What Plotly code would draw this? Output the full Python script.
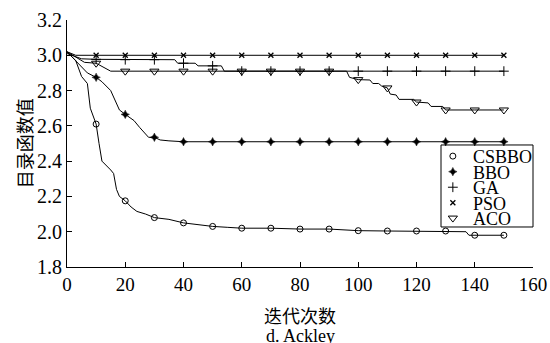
import plotly.graph_objects as go

# ---------------- data ----------------
series_names = ["CSBBO", "BBO", "GA", "PSO", "ACO"]

csbbo_x = [0, 3, 5, 7, 8, 10, 11, 12, 15, 16, 17, 18, 20, 22, 24, 27, 30, 35, 40, 45, 50, 55, 60, 70, 80, 90, 100, 110, 120, 130, 137, 138, 140, 150]
csbbo_y = [3.02, 2.97, 2.88, 2.84, 2.70, 2.61, 2.50, 2.40, 2.35, 2.33, 2.24, 2.20, 2.175, 2.14, 2.115, 2.10, 2.08, 2.07, 2.05, 2.04, 2.03, 2.025, 2.02, 2.02, 2.015, 2.015, 2.006, 2.004, 2.004, 2.004, 2.0, 1.98, 1.98, 1.98]

bbo_x = [0, 3, 6, 7, 10, 12, 15, 16, 17, 18, 20, 23, 25, 27, 28, 30, 32, 35, 40, 50, 60, 70, 80, 90, 100, 110, 120, 130, 140, 150]
bbo_y = [3.02, 2.97, 2.92, 2.90, 2.875, 2.85, 2.80, 2.76, 2.72, 2.69, 2.665, 2.63, 2.59, 2.55, 2.535, 2.535, 2.52, 2.515, 2.51, 2.51, 2.51, 2.51, 2.51, 2.51, 2.51, 2.51, 2.51, 2.51, 2.51, 2.51]

ga_x = [0, 3, 5, 10, 20, 30, 37, 38, 40, 44, 45, 50, 53, 54, 60, 70, 80, 90, 100, 110, 120, 130, 140, 150]
ga_y = [3.01, 2.99, 2.98, 2.977, 2.975, 2.975, 2.975, 2.955, 2.955, 2.955, 2.94, 2.94, 2.94, 2.91, 2.91, 2.91, 2.91, 2.91, 2.91, 2.91, 2.91, 2.91, 2.91, 2.91]

pso_x = [0, 3, 10, 20, 30, 40, 50, 60, 70, 80, 90, 100, 110, 120, 130, 140, 150]
pso_y = [3.02, 3.0, 3.0, 3.0, 3.0, 3.0, 3.0, 3.0, 3.0, 3.0, 3.0, 3.0, 3.0, 3.0, 3.0, 3.0, 3.0]

aco_x = [0, 3, 6, 10, 12, 14, 15, 20, 30, 40, 50, 60, 70, 80, 90, 96, 97, 99, 100, 104, 105, 107, 108, 110, 111, 113, 114, 119, 120, 124, 125, 129, 130, 140, 150]
aco_y = [3.02, 2.99, 2.96, 2.955, 2.935, 2.92, 2.91, 2.91, 2.91, 2.91, 2.91, 2.91, 2.91, 2.91, 2.91, 2.91, 2.875, 2.865, 2.862, 2.86, 2.84, 2.84, 2.826, 2.815, 2.78, 2.775, 2.75, 2.75, 2.735, 2.73, 2.71, 2.71, 2.69, 2.69, 2.69]

x_tick_vals = [0, 20, 40, 60, 80, 100, 120, 140, 160]
y_tick_vals = [1.8, 2.0, 2.2, 2.4, 2.6, 2.8, 3.0, 3.2]
x_title = "迭代次数"
y_title = "目录函数值"
caption = "d. Ackley"
top_caption = "c. Rosenbrock"

# ---------------- styles ----------------
SERIF = "'Liberation Serif', 'Times New Roman', serif"
CJK = "'Noto Sans CJK SC', 'Liberation Serif', serif"
symbols = {
    "CSBBO": dict(symbol="circle-open", size=6, line=dict(width=1, color="black")),
    "BBO": dict(symbol="star-diamond", size=6, line=dict(width=0.5, color="black")),
    "GA": dict(symbol="cross-thin-open", size=7, line=dict(width=1, color="black")),
    "PSO": dict(symbol="x-thin-open", size=5, line=dict(width=1.3, color="black")),
    "ACO": dict(symbol="triangle-down-open", size=8, line=dict(width=1, color="black")),
}
data = {
    "CSBBO": (csbbo_x, csbbo_y),
    "BBO": (bbo_x, bbo_y),
    "GA": (ga_x, ga_y),
    "PSO": (pso_x, pso_y),
    "ACO": (aco_x, aco_y),
}

fig = go.Figure()
for name in series_names:
    xs, ys = data[name]
    fig.add_trace(go.Scatter(x=xs, y=ys, mode="lines", line=dict(color="black", width=1),
                             showlegend=False, hoverinfo="skip"))
    mx = [x for x in xs if x % 10 == 0 and x > 0]
    my = [y for x, y in zip(xs, ys) if x % 10 == 0 and x > 0]
    fig.add_trace(go.Scatter(x=mx, y=my, mode="markers", marker=dict(color="black", **symbols[name]),
                             name=name, showlegend=False))

# ---------------- custom legend (compact, like the reference) ----------------
leg_x0, leg_x1, leg_y0, leg_y1 = 0.8026, 1.0, 0.162, 0.494
leg_rows = [0.449, 0.386, 0.323, 0.260, 0.198]
for name, ry in zip(series_names, leg_rows):
    fig.add_trace(go.Scatter(x=[0.828], y=[ry], xaxis="x2", yaxis="y2", mode="markers",
                             marker=dict(color="black", **symbols[name]), showlegend=False,
                             hoverinfo="skip"))
    fig.add_annotation(x=0.866, y=ry - 0.004, xref="paper", yref="paper", text=name, showarrow=False,
                       xanchor="left", yanchor="middle", font=dict(family=SERIF, size=18, color="black"))
fig.add_shape(type="rect", xref="paper", yref="paper", x0=leg_x0, x1=leg_x1, y0=leg_y0, y1=leg_y1,
              line=dict(color="black", width=1), fillcolor="rgba(0,0,0,0)")

# ---------------- titles ----------------
fig.add_annotation(x=0.5, y=-0.195, xref="paper", yref="paper", text=x_title, showarrow=False,
                   xanchor="center", yanchor="middle", font=dict(family=CJK, size=18, color="black"))
fig.add_annotation(x=0.5, y=-0.28, xref="paper", yref="paper", text=caption, showarrow=False,
                   xanchor="center", yanchor="middle", font=dict(family=SERIF, size=18, color="black"))
fig.add_annotation(x=-0.093, y=0.5, xref="paper", yref="paper", text=y_title, showarrow=False,
                   textangle=-90, xanchor="center", yanchor="middle",
                   font=dict(family=CJK, size=18, color="black"))
fig.add_annotation(x=0.5, y=1.11, xref="paper", yref="paper", text=top_caption, showarrow=False,
                   xanchor="center", yanchor="middle", font=dict(family=SERIF, size=18, color="black"))

fig.update_layout(
    width=550, height=343,
    margin=dict(l=67, r=17, t=20, b=76),
    paper_bgcolor="white", plot_bgcolor="white",
    showlegend=False,
    font=dict(family=SERIF, size=19, color="black"),
    xaxis=dict(range=[0, 160], tickvals=x_tick_vals, ticks="inside", ticklen=5, tickcolor="black",
               showline=True, linecolor="black", linewidth=1, showgrid=False, zeroline=False,
               automargin=False, tickfont=dict(family=SERIF, size=19, color="black")),
    yaxis=dict(range=[1.8, 3.2], tickvals=y_tick_vals, tickformat=".1f", ticks="inside", ticklen=5,
               tickcolor="black", showline=True, linecolor="black", linewidth=1, showgrid=False,
               zeroline=False, automargin=False, tickfont=dict(family=SERIF, size=20, color="black")),
    xaxis2=dict(range=[0, 1], overlaying="x", visible=False),
    yaxis2=dict(range=[0, 1], overlaying="y", visible=False),
)

fig.write_html("out.html", config={"displayModeBar": False},
               post_script="document.body.style.margin='0px';document.body.style.padding='0px';")
